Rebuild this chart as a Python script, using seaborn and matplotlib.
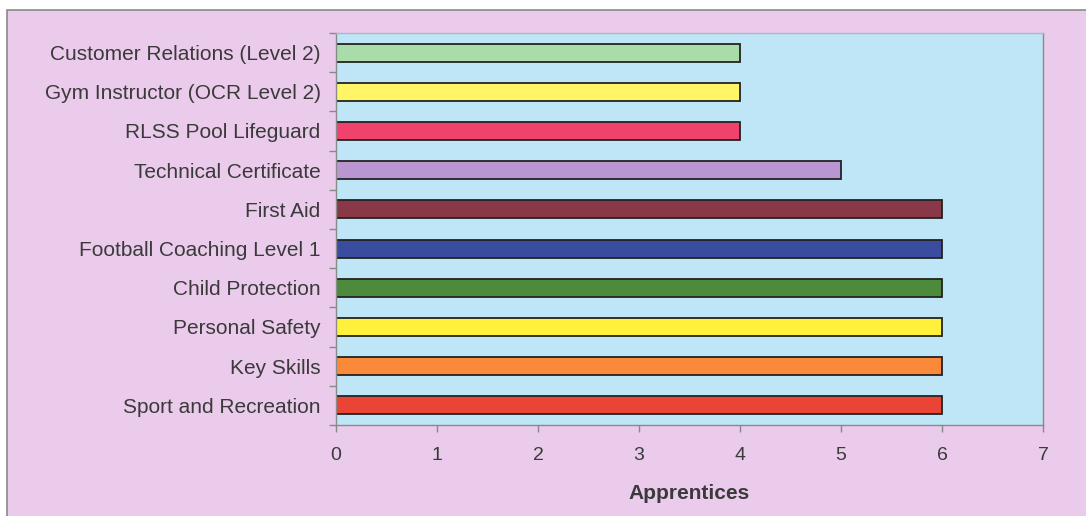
import matplotlib
matplotlib.use("Agg")
import matplotlib.pyplot as plt
import matplotlib.patches as mpatches
import numpy as np
import pandas as pd
import seaborn as sns

# data, listed top to bottom as in the chart
courses = ["Customer Relations (Level 2)", "Gym Instructor (OCR Level 2)",
           "RLSS Pool Lifeguard", "Technical Certificate", "First Aid",
           "Football Coaching Level 1", "Child Protection", "Personal Safety",
           "Key Skills", "Sport and Recreation"]
apprentices = [4, 4, 4, 5, 6, 6, 6, 6, 6, 6]
bar_colors = ["#A8DCA8", "#FFF566", "#F0426C", "#B995D2", "#8A3848",
              "#3A4CA0", "#4C8A3C", "#FFF03C", "#FA8A3A", "#EA4436"]
x_ticks = [0, 1, 2, 3, 4, 5, 6, 7]

df = pd.DataFrame({"course": courses, "apprentices": apprentices})

sns.set_style("white")
plt.rcParams["font.family"] = ["Liberation Sans", "DejaVu Sans"]

fig = plt.figure(figsize=(10.86, 5.16), dpi=100)
fig.patch.set_facecolor("white")
# outer chart area border
fig.patches.append(mpatches.Rectangle((7 / 1086, -0.01), 1.02, 1 - 10 / 516 + 0.01,
                                      transform=fig.transFigure, facecolor="#EBCBEB",
                                      edgecolor="#8A8A8A", linewidth=1.2, zorder=-10))

ax = fig.add_axes([336 / 1086, 1 - 425 / 516, (1043 - 336) / 1086, (425 - 33) / 516])
ax.set_facecolor("#BEE6F6")

sns.barplot(data=df, y="course", x="apprentices", hue="course", palette=bar_colors,
            order=courses, hue_order=courses, orient="h", width=0.46, saturation=1,
            edgecolor="#222222", linewidth=1.3, legend=False, ax=ax)

ax.set_xlim(0, 7)
ax.set_ylim(len(courses) - 0.5, -0.5)
ax.set_xticks(x_ticks)
ax.set_xticklabels([str(t) for t in x_ticks], fontsize=14, color="#3A3A3A")
ax.tick_params(axis="x", bottom=True, direction="out", length=5, width=1,
               color="#888888", pad=11)
ax.set_yticks(range(len(courses)))
ax.set_yticklabels(courses, fontsize=15, color="#3A3A3A")
ax.tick_params(axis="y", which="major", left=True, length=0, pad=11)
ax.set_yticks(np.arange(-0.5, len(courses), 1.0), minor=True)
ax.tick_params(axis="y", which="minor", left=True, direction="out", length=5, width=1,
               color="#888888")

for s in ax.spines.values():
    s.set_color("#8A8A8A")
    s.set_linewidth(1)
ax.spines["top"].set_color("#A8B8C8")

ax.set_ylabel("")
ax.set_xlabel("Apprentices", fontsize=15, fontweight="bold", color="#3A3A3A", labelpad=14)

fig.savefig("out.png", dpi=100, facecolor=fig.get_facecolor())
